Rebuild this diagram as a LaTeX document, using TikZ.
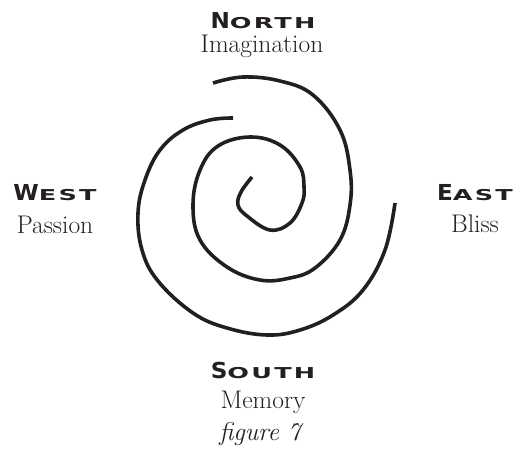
\documentclass[tikz,border=0pt]{standalone}
\usepackage{fontspec}
\newfontfamily\capfont[FakeStretch=1.05,LetterSpace=10]{DejaVu Sans Bold}
\newfontfamily\scfont[FakeStretch=1.7,LetterSpace=15]{DejaVu Sans Bold}
\newcommand\hd[2]{{\capfont\fontsize{22}{22}\selectfont #1}{\scfont\fontsize{15}{15}\selectfont #2}}
\definecolor{ink}{RGB}{35,31,32}
\begin{document}
\begin{tikzpicture}[x=1pt,y=-1pt,
  head/.style={anchor=base, text=ink, inner sep=0pt},
  sub/.style={anchor=base, text=ink, inner sep=0pt, font=\fontsize{25.5}{25.5}\selectfont},
  spiralline/.style={draw=ink, line width=3.6pt}]
\useasboundingbox (0,0) rectangle (518,458);
% headings
\node[head] (north) at (263,28) {\hd{N}{ORTH}};
\node[sub]  (imag)  at (262,52) {Imagination};
\node[head] (west)  at (55,200) {\hd{W}{EST}};
\node[sub]  (pass)  at (55,233) {Passion};
\node[head] (east)  at (475,200) {\hd{E}{AST}};
\node[sub]  (bliss) at (475,232) {Bliss};
\node[head] (south) at (263,378) {\hd{S}{OUTH}};
\node[sub]  (mem)   at (263,408) {Memory};
\node[sub]  (fig)   at (260,440) {\itshape figure 7};
% spiral
\draw[spiralline] plot[smooth, tension=0.65] coordinates {
  (252,177) (241,192) (238,205) (247,216) (270,230) (290,223) (302,203)
  (304,187) (300,167) (280,145) (250,137) (218,146) (200,170) (193,205)
  (200,240) (227,267) (260,280) (290,278) (315,268) (340,240) (350,205)
  (350,170) (340,130) (313,95) (280,81) (243,77) (213,83)};
\draw[spiralline] plot[smooth, tension=0.65] coordinates {
  (233,118) (210,120) (183,130) (160,150) (145,180) (138,213) (142,250)
  (158,281) (193,313) (227,328) (267,335) (300,330) (333,315) (363,290)
  (385,250) (395,203)};
\end{tikzpicture}
\end{document}
